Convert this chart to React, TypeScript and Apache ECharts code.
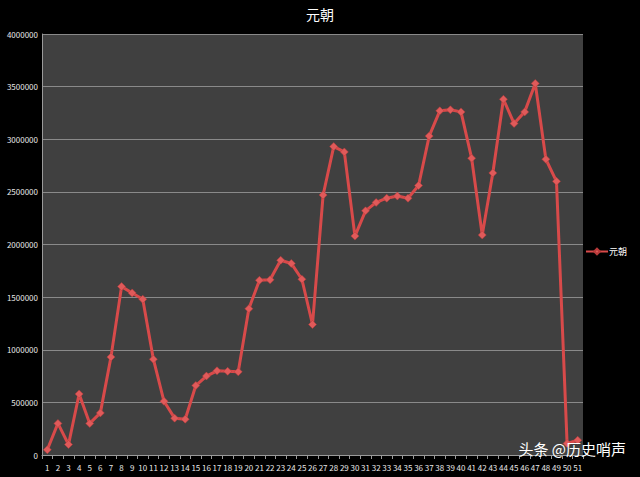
import React, { useEffect, useRef } from 'react'
import * as echarts from 'echarts'

const categories = Array.from({ length: 51 }, (_, i) => String(i + 1))

const values = [
  50000, 300000, 100000, 580000, 300000, 400000, 930000, 1600000, 1540000, 1480000,
  910000, 510000, 350000, 340000, 660000, 750000, 800000, 795000, 790000, 1390000,
  1660000, 1665000, 1850000, 1820000, 1670000, 1240000, 2470000, 2930000, 2880000, 2080000,
  2320000, 2400000, 2440000, 2460000, 2440000, 2560000, 3030000, 3270000, 3280000, 3260000,
  2820000, 2090000, 2680000, 3380000, 3150000, 3260000, 3530000, 2810000, 2600000, 110000,
  140000,
]

const seriesName = '元朝'
const lineColor = '#d84a4a'

const App: React.FC = () => {
  const chartRef = useRef<HTMLDivElement>(null)

  useEffect(() => {
    if (!chartRef.current) return
    const chart = echarts.init(chartRef.current, null, { renderer: 'svg' })

    const option = {
      animation: false,
      backgroundColor: '#000000',
      textStyle: { fontFamily: '"Noto Sans CJK SC", "Noto Sans", sans-serif' },
      title: {
        text: seriesName,
        left: 'center',
        top: 2,
        textStyle: { color: '#ffffff', fontSize: 14, fontWeight: 'normal' },
      },
      legend: {
        orient: 'vertical',
        right: 8,
        top: 242,
        itemWidth: 22,
        itemHeight: 7,
        itemGap: 4,
        textStyle: { color: '#ffffff', fontSize: 9, padding: [0, 0, 0, -4] },
        data: [seriesName],
      },
      grid: {
        left: 42,
        right: 57,
        top: 34,
        bottom: 22,
        show: true,
        backgroundColor: '#404040',
        borderWidth: 0,
      },
      xAxis: {
        type: 'category',
        data: categories,
        boundaryGap: true,
        axisLine: { lineStyle: { color: '#9a9a9a', width: 1 } },
        axisTick: { show: true, alignWithLabel: false, length: 4, lineStyle: { color: '#9a9a9a' } },
        axisLabel: { interval: 0, color: '#e8e8e8', fontSize: 8, margin: 8 },
        splitLine: { show: false },
      },
      yAxis: {
        type: 'value',
        min: 0,
        max: 4000000,
        interval: 500000,
        axisLine: { show: true, lineStyle: { color: '#9a9a9a', width: 1 } },
        axisTick: { show: false },
        axisLabel: {
          color: '#e8e8e8',
          fontSize: 8,
          margin: 4,
          formatter: (v: number) => String(v),
        },
        splitLine: { lineStyle: { color: '#8a8a8a', width: 1 } },
      },
      graphic: [
        {
          type: 'text',
          right: 14,
          top: 441,
          z: 100,
          style: {
            text: '头条 @历史哨声',
            fill: '#ffffff',
            font: '15px "Noto Sans CJK SC", sans-serif',
            shadowColor: 'rgba(0,0,0,0.6)',
            shadowBlur: 3,
          },
        },
      ],
      series: [
        {
          name: seriesName,
          type: 'line',
          data: values,
          symbol: 'diamond',
          symbolSize: 8,
          lineStyle: { color: lineColor, width: 3 },
          itemStyle: { color: '#e05a5a', borderColor: '#b83a3a', borderWidth: 0.5 },
        },
      ],
    }

    chart.setOption(option)
    return () => {
      chart.dispose()
    }
  }, [])

  return (
    <div
      ref={chartRef}
      style={{ position: 'fixed', left: 0, top: 0, width: 640, height: 477 }}
    />
  )
}

export default App
